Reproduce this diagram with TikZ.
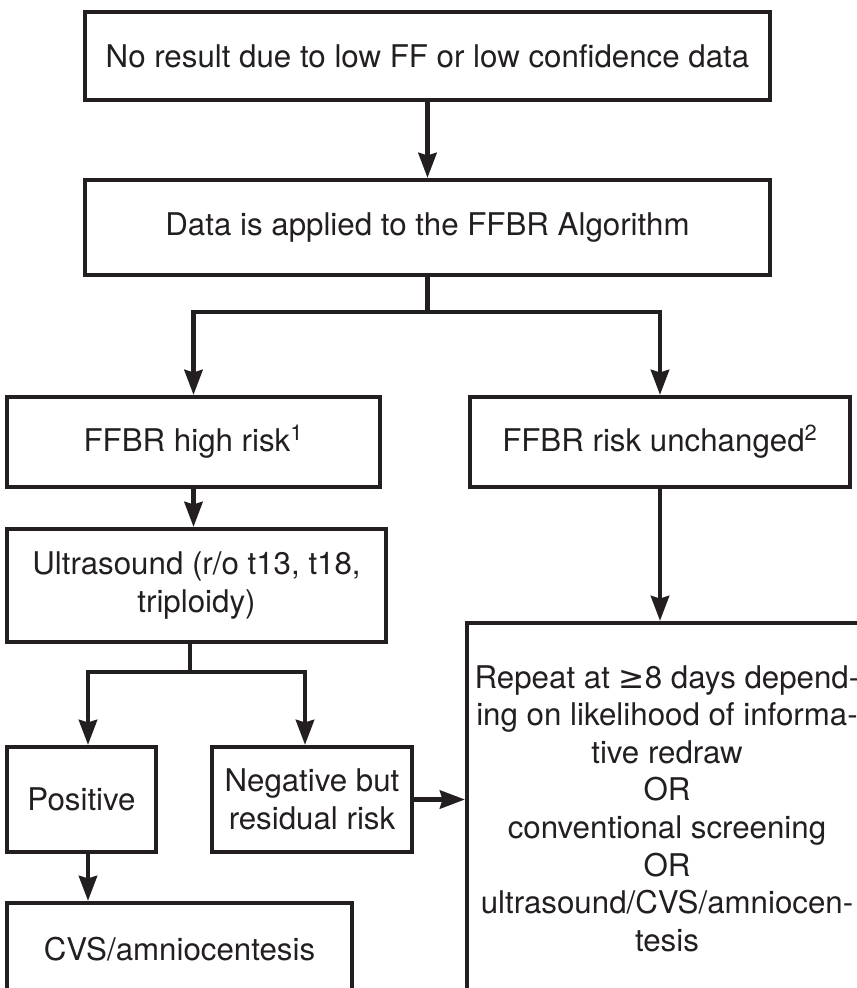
\documentclass[tikz,border=0pt]{standalone}
\usepackage{fontspec}
\setmainfont{TeX Gyre Heros}
\newfontfamily\symfont{DejaVu Sans}
\usetikzlibrary{arrows.meta}
\definecolor{ink}{HTML}{231F20}

\begin{document}
\begin{tikzpicture}[x=0.02cm, y=-0.02cm]
    % Define basic styles
    \tikzset{
        block/.style={
            rectangle,
            draw=ink,
            line width=2.3pt,
            inner sep=0pt,
            align=center,
            text=ink,
            font=\fontsize{17.8}{21.4}\selectfont
        },
        wire/.style={draw=ink, line width=2.8pt},
        arr/.style={wire, -{Stealth[length=0.5cm, width=0.36cm, inset=0.05cm]}}
    }
    \useasboundingbox (0,0) rectangle (857,988);

    % Top of the chart
    \node[block, minimum width=13.7cm, minimum height=1.76cm] (nores) at (427.5,56) {No result due to low FF or low confidence data};
    \node[block, minimum width=13.7cm, minimum height=1.9cm] (apply) at (427.5,227.5) {Data is applied to the FFBR Algorithm};

    % FFBR outcomes
    \node[block, minimum width=7.46cm, minimum height=1.8cm] (high) at (193.5,442) {FFBR high risk\textsuperscript{1}};
    \node[block, minimum width=7.6cm, minimum height=1.8cm] (unch) at (660,442) {FFBR risk unchanged\textsuperscript{2}};

    % High risk branch
    \node[block, minimum width=7.58cm, minimum height=2.26cm] (ultra) at (196.5,585.5) {Ultrasound (r/o t13, t18,\\triploidy)};
    \node[block, minimum width=2.98cm, minimum height=2.1cm] (pos) at (81.5,799.5) {Positive};
    \node[block, minimum width=4cm, minimum height=2.1cm] (neg) at (312,799.5) {Negative but\\residual risk};
    \node[block, minimum width=6.9cm, minimum height=1.84cm] (cvs) at (179.5,949) {CVS/amniocentesis};

    % Follow-up options
    \node[block, minimum width=8cm, minimum height=7.42cm] (rep) at (667,808.5) {Repeat at {\symfont ≥}8 days depend-\\ing on likelihood of informa-\\tive redraw\\OR\\conventional screening\\OR\\ultrasound/CVS/amniocen-\\tesis};

    % Branch points
    \coordinate (split1) at (427.5,312);
    \coordinate (split2) at (190,672);

    % Connections
    \draw[arr] (nores) -- (apply);
    \draw[wire] (apply) -- (split1);
    \draw[arr] (split1) -| (high);
    \draw[arr] (split1) -| (unch);
    \draw[arr] (high.south) -- (high.south |- ultra.north);
    \draw[wire] (split2 |- ultra.south) -- (split2);
    \draw[arr] (split2) -| ([xshift=0.13cm]pos.north);
    \draw[arr] (split2) -| ([xshift=-0.14cm]neg.north);
    \draw[arr] (neg.east) -- (neg.east -| rep.west);
    \draw[arr] (unch) -- (unch |- rep.north);
    \draw[arr] ([xshift=0.13cm]pos.south) -- ([xshift=0.13cm]pos.south |- cvs.north);
\end{tikzpicture}
\end{document}
